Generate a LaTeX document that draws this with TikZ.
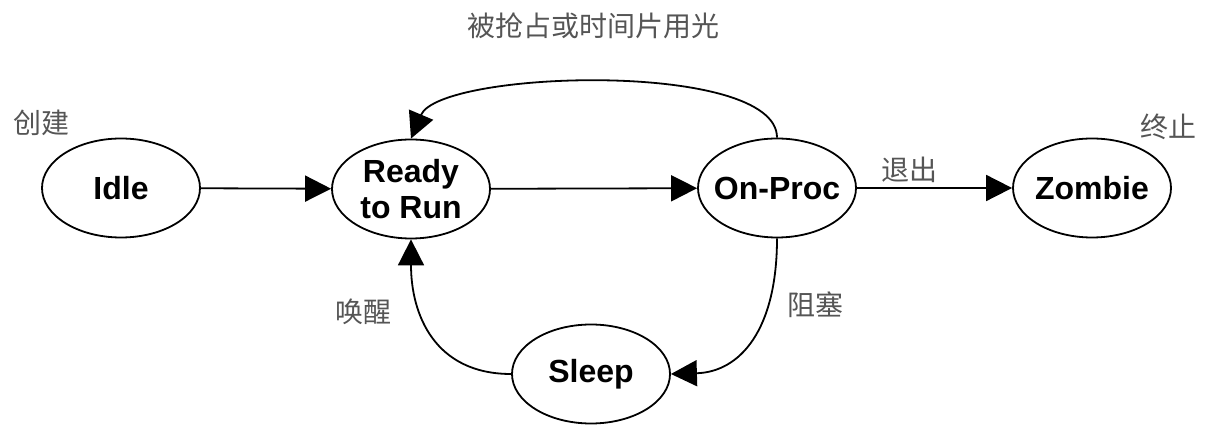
\documentclass[tikz,border=0pt]{standalone}
\usepackage{fontspec}
\usepackage{tikz}
\usepackage{xcolor}
\usetikzlibrary{positioning, arrows.meta, shapes.geometric, calc}
\setmainfont{Liberation Sans}
\newfontfamily\cjk{Noto Sans CJK SC}
\definecolor{mGray}{HTML}{555555}

\begin{document}
\begin{tikzpicture}[x=0.5pt, y=-0.5pt,
    state/.style={ellipse, draw, line width=0.9pt, minimum width=79pt,
      minimum height=49.5pt, inner sep=0pt},
    stateText/.style={font=\bfseries\fontsize{16}{18}\selectfont, align=center},
    tag/.style={mGray, inner sep=0pt, font=\cjk\fontsize{14}{16}\selectfont},
    edge/.style={line width=0.9pt, -{Triangle[length=13pt, width=13pt]}}]
    \useasboundingbox (0,0) rectangle (1213,442);

    % states
    \node[state, label={[stateText]center:Idle}] (idle) at (121,188) {};
    \node[state, label={[stateText]center:Ready\\to Run}] (ready) at (411,189) {};
    \node[state, label={[stateText]center:On-Proc}] (onproc) at (777,188) {};
    \node[state, label={[stateText]center:Zombie}] (zombie) at (1092,188) {};
    \node[state, label={[stateText]center:Sleep}] (sleep) at (591,374) {};

    % transitions
    \draw[edge] (idle) -- (ready);
    \draw[edge] (ready) -- (onproc);
    \draw[edge] (onproc) -- (zombie);
    \draw[edge] (onproc.north) .. controls (777,60) and (440,70) .. (ready.north);
    \draw[edge] (onproc.south) .. controls (777,330) and (740,372) .. (sleep.east);
    \draw[edge] (sleep.west) .. controls (435,374) and (411,315) .. (ready.south);

    % labels
    \node[tag] (tPreempt) at (593,26) {被抢占或时间片用光};
    \node[tag] (tCreate) at (41,123) {创建};
    \node[tag] (tExit) at (909,170) {退出};
    \node[tag] (tEnd) at (1168,127) {终止};
    \node[tag] (tWake) at (363,312) {唤醒};
    \node[tag] (tBlock) at (815,305) {阻塞};
  \end{tikzpicture}
\end{document}
